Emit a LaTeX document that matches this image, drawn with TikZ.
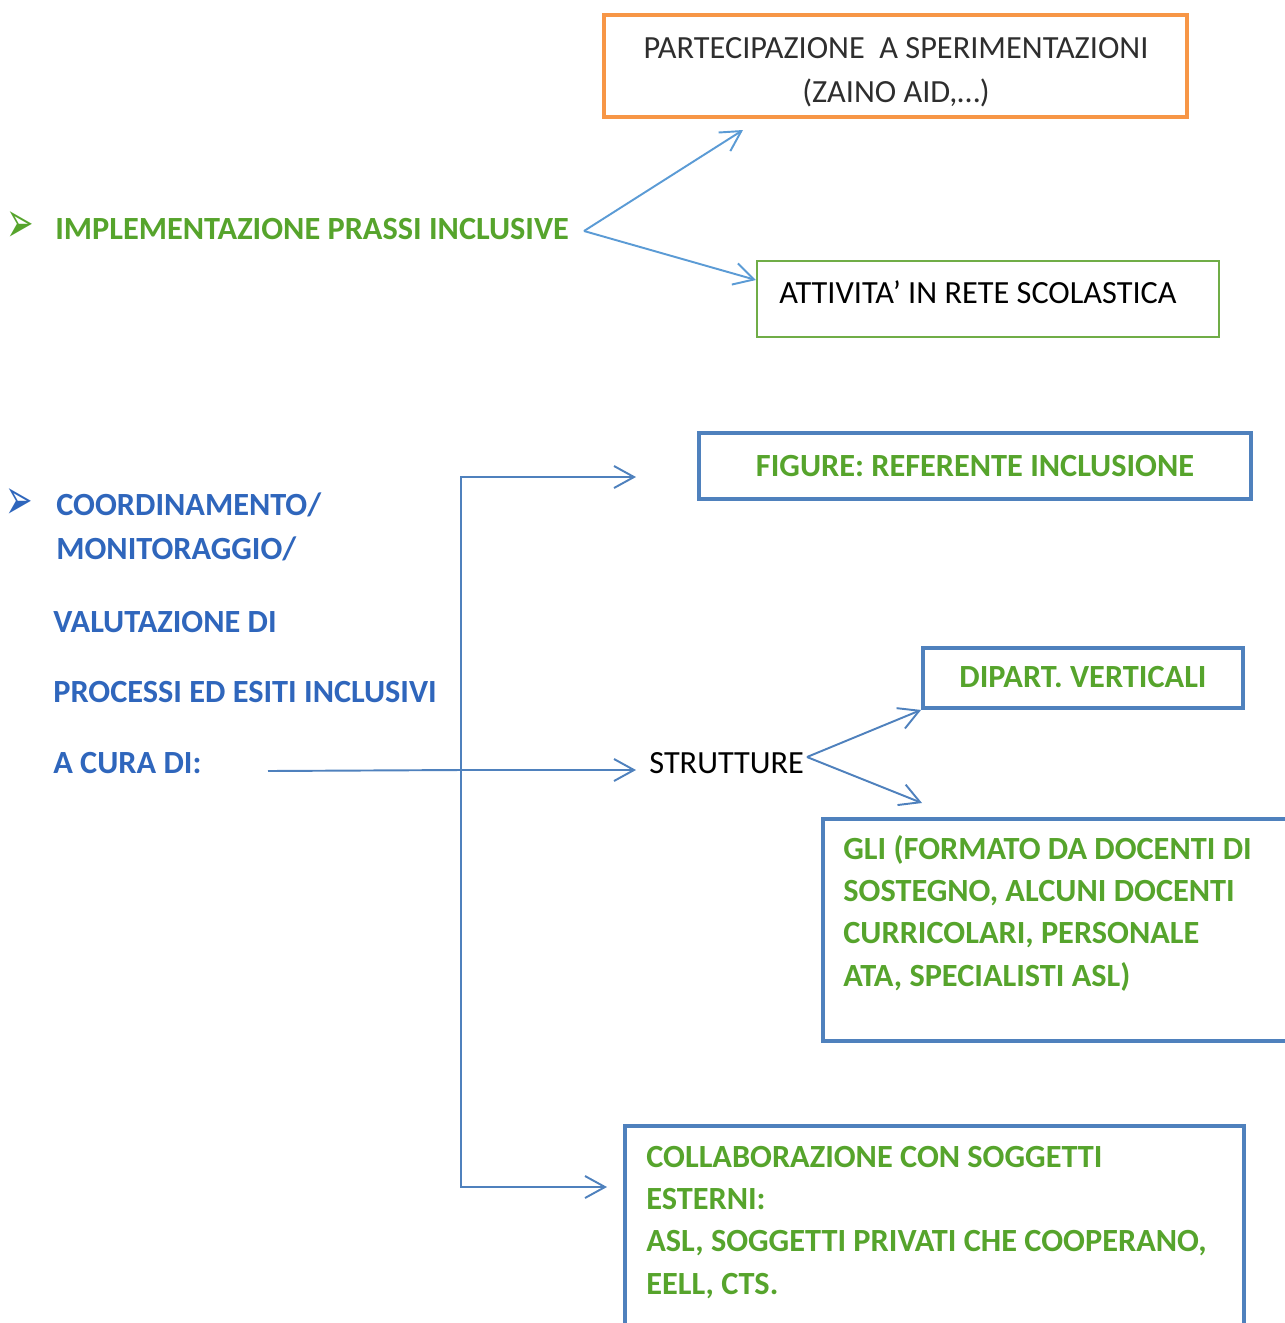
\documentclass[tikz,border=0pt]{standalone}
\usepackage{fontspec}
\usepackage{graphicx}
\setmainfont{Carlito}
\newfontfamily\symfont{DejaVu Sans}
\usetikzlibrary{arrows.meta}

\definecolor{txtgreen}{RGB}{86,164,44}
\definecolor{txtblue}{RGB}{47,102,188}
\definecolor{boxblue}{RGB}{79,129,189}
\definecolor{linkblue}{RGB}{91,155,213}
\definecolor{boxorange}{RGB}{247,150,70}
\definecolor{boxgreen}{RGB}{112,173,71}

\newcommand{\bulletmark}{\scalebox{0.85}[1.5]{➢}}

\tikzset{
  greentxt/.style={text=txtgreen,font=\fontsize{18.4}{24.1}\selectfont\bfseries},
  bluetxt/.style={text=txtblue,font=\fontsize{18.4}{24.1}\selectfont\bfseries},
  plaintxt/.style={text=black!82,font=\fontsize{18.4}{25}\selectfont},
  bullet/.style={font=\symfont\fontsize{22}{22}\selectfont,inner sep=0pt},
  bluebox/.style={draw=boxblue,line width=2.2pt,inner sep=0pt},
  orangebox/.style={draw=boxorange,line width=2.2pt,inner sep=0pt},
  greenbox/.style={draw=boxgreen,line width=1.2pt,inner sep=0pt},
  link/.style={draw=boxblue,line width=1.1pt,>={Straight Barb[length=0.4cm,width=0.44cm]}},
  lightlink/.style={link,draw=linkblue},
}

\begin{document}
\begin{tikzpicture}[x=0.02cm,y=-0.02cm,inner sep=0pt]
  %%%%% FRAME %%%%%
  \useasboundingbox (0,0) rectangle (1285,1323);

  %%%%% IMPLEMENTAZIONE %%%%%
  \node[bullet,text=txtgreen] (bulimpl) at (20,227) {\bulletmark};
  \node[greentxt,anchor=base west] (impl) at (55,239) {IMPLEMENTAZIONE PRASSI INCLUSIVE};

  \node[orangebox,minimum width=11.66cm,minimum height=2.04cm] (part) at (895.5,66) {};
  \node[plaintxt,align=center] (parttxt) at (896,72)
    {PARTECIPAZIONE\ \ A SPERIMENTAZIONI\\(ZAINO AID,…)};
  \node[greenbox,minimum width=9.24cm,minimum height=1.52cm] (rete) at (988,299) {};
  \node[plaintxt,text=black,anchor=base west] (retetxt) at (779,303) {ATTIVITA’ IN RETE SCOLASTICA};

  \coordinate (forkimpl) at (584,231);
  \coordinate (tippart) at (743,130);
  \coordinate (tiprete) at (756,280);
  \draw[lightlink,->] (forkimpl) -- (tippart);
  \draw[lightlink,->] (forkimpl) -- (tiprete);

  %%%%% COORDINAMENTO %%%%%
  \node[bullet,text=txtblue] (bulcoord) at (19,504) {\bulletmark};
  \node[bluetxt,anchor=base west] (coord) at (56,515) {COORDINAMENTO/};
  \node[bluetxt,anchor=base west] (monit) at (56,559) {MONITORAGGIO/};
  \node[bluetxt,anchor=base west] (valut) at (53,632) {VALUTAZIONE DI};
  \node[bluetxt,anchor=base west] (proc) at (53,702) {PROCESSI ED ESITI INCLUSIVI};
  \node[bluetxt,anchor=base west] (cura) at (53,773) {A CURA DI:};

  \node[bluebox,greentxt,minimum width=11.04cm,minimum height=1.32cm] (fig) at (975,466)
    {FIGURE: REFERENTE INCLUSIONE};
  \node[plaintxt,text=black,anchor=base west] (strut) at (649,773) {STRUTTURE};
  \node[bluebox,greentxt,minimum width=6.4cm,minimum height=1.2cm,text height=0.42cm,text depth=0.06cm] (dip) at (1083,678)
    {DIPART. VERTICALI};

  \node[bluebox,anchor=north west,minimum width=9.6cm,minimum height=4.44cm] (gli) at (821,817) {};
  \node[greentxt,anchor=base west,text width=9cm,align=flush left] (glitxt) at (843,859)
    {GLI (FORMATO DA DOCENTI DI\\SOSTEGNO, ALCUNI DOCENTI\\CURRICOLARI, PERSONALE\\ATA, SPECIALISTI ASL)};

  \node[bluebox,anchor=north west,minimum width=12.38cm,minimum height=4.4cm] (coll) at (623,1124) {};
  \node[greentxt,anchor=base west,text width=12cm,align=flush left] (colltxt) at (646,1167)
    {COLLABORAZIONE CON SOGGETTI\\ESTERNI:\\ASL, SOGGETTI PRIVATI CHE COOPERANO,\\EELL, CTS.};

  % connectors
  \coordinate (start) at (268,771);
  \coordinate (junc) at (461,770);
  \coordinate (tipfig) at (636,477);
  \coordinate (tipstrut) at (636,770);
  \coordinate (tipcoll) at (607,1187);
  \draw[link] (start) -- (junc);
  \draw[link,->] (junc) -- (tipstrut);
  \draw[link,<->] (tipfig) -- (junc |- tipfig) -- (junc |- tipcoll) -- (tipcoll);

  \coordinate (forkstrut) at (807,757);
  \coordinate (tipgli) at (922,803);
  \draw[link,->] (forkstrut) -- (dip.south west);
  \draw[link,->] (forkstrut) -- (tipgli);
\end{tikzpicture}
\end{document}
